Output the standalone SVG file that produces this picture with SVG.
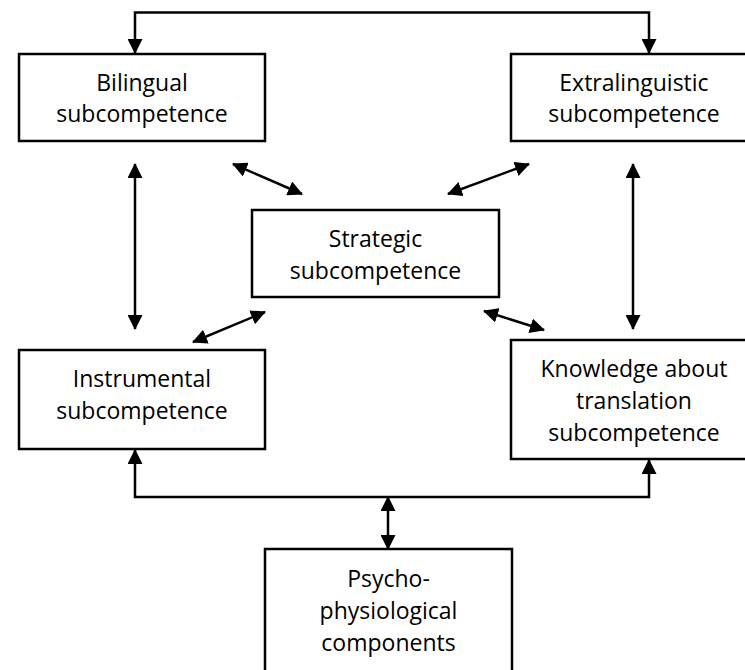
<svg xmlns="http://www.w3.org/2000/svg" width="745" height="670" viewBox="0 0 745 670">
  <style>
    .box { fill: #ffffff; stroke: #000000; stroke-width: 2.5; }
    .lbl { font-family: "Open Sans", "Liberation Sans", sans-serif; font-size: 23px; fill: #000000; text-anchor: middle; }
    .link { fill: none; stroke: #000000; stroke-width: 2.5; }
  </style>
  <defs>
    <marker id="head" viewBox="0 0 15 15" refX="14" refY="7.5" markerWidth="15" markerHeight="15" markerUnits="userSpaceOnUse" orient="auto-start-reverse">
      <path d="M0,0 L15,7.5 L0,15 Z" fill="#000000"/>
    </marker>
  </defs>
  <rect width="745" height="670" fill="#ffffff"/>

  <!-- subcompetence boxes -->
  <g id="bilingual">
    <rect class="box" x="19" y="54" width="246" height="87"/>
    <text class="lbl" x="142" y="90.5">Bilingual</text>
    <text class="lbl" x="142" y="122">subcompetence</text>
  </g>
  <g id="extralinguistic">
    <rect class="box" x="511" y="54" width="246" height="87"/>
    <text class="lbl" x="634" y="90.5">Extralinguistic</text>
    <text class="lbl" x="634" y="122">subcompetence</text>
  </g>
  <g id="strategic">
    <rect class="box" x="252" y="210" width="247" height="87"/>
    <text class="lbl" x="375.5" y="247">Strategic</text>
    <text class="lbl" x="375.5" y="279">subcompetence</text>
  </g>
  <g id="instrumental">
    <rect class="box" x="19" y="350" width="246" height="99"/>
    <text class="lbl" x="142" y="387">Instrumental</text>
    <text class="lbl" x="142" y="419">subcompetence</text>
  </g>
  <g id="knowledge">
    <rect class="box" x="511" y="340" width="246" height="119"/>
    <text class="lbl" x="634" y="377">Knowledge about</text>
    <text class="lbl" x="634" y="409">translation</text>
    <text class="lbl" x="634" y="441">subcompetence</text>
  </g>
  <g id="psycho">
    <rect class="box" x="265" y="549" width="247" height="140"/>
    <text class="lbl" x="388.5" y="587">Psycho-</text>
    <text class="lbl" x="388.5" y="619">physiological</text>
    <text class="lbl" x="388.5" y="651">components</text>
  </g>

  <!-- connectors -->
  <g id="connectors">
    <path class="link" d="M135,53 L135,12.5 L649,12.5 L649,53" marker-start="url(#head)" marker-end="url(#head)"/>
    <path class="link" d="M135,164 L135,329" marker-start="url(#head)" marker-end="url(#head)"/>
    <path class="link" d="M633,164 L633,329" marker-start="url(#head)" marker-end="url(#head)"/>
    <path class="link" d="M233,164 L302,194" marker-start="url(#head)" marker-end="url(#head)"/>
    <path class="link" d="M448,194 L529,164" marker-start="url(#head)" marker-end="url(#head)"/>
    <path class="link" d="M193,342 L265,312" marker-start="url(#head)" marker-end="url(#head)"/>
    <path class="link" d="M484,311 L544,330" marker-start="url(#head)" marker-end="url(#head)"/>
    <path class="link" d="M135,450 L135,497 L649,497 L649,460" marker-start="url(#head)" marker-end="url(#head)"/>
    <path class="link" d="M388,497 L388,549" marker-start="url(#head)" marker-end="url(#head)"/>
  </g>
</svg>
